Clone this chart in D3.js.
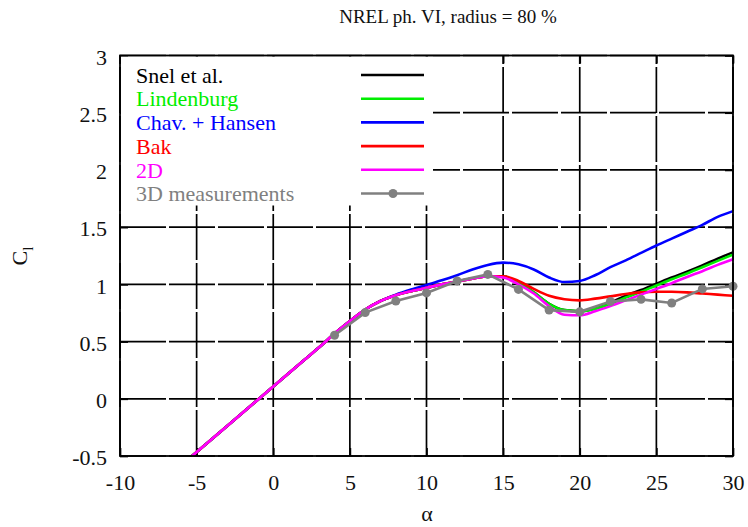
<!DOCTYPE html>
<html>
<head>
<meta charset="utf-8">
<script src="https://cdn.jsdelivr.net/npm/d3@7"></script>
<style>
  html, body { margin: 0; padding: 0; background: #fff; }
  svg text { font-family: "Liberation Serif", "Times New Roman", serif !important; }
</style>
</head>
<body>
<svg id="chart" width="748" height="527"></svg>
<script>
// ---- data ----
const chartTitle = "NREL ph. VI, radius = 80 %";
const xTicks = [-10, -5, 0, 5, 10, 15, 20, 25, 30];
const xTickLabels = ["-10", "-5", "0", "5", "10", "15", "20", "25", "30"];
const yTicks = [-0.5, 0, 0.5, 1, 1.5, 2, 2.5, 3];
const yTickLabels = ["-0.5", "0", "0.5", "1", "1.5", "2", "2.5", "3"];

const alphaModel = [-5.3, -4, -2, 0, 2, 3, 4, 5, 6, 7, 8, 9, 10, 11, 12, 13, 14, 15, 16, 17, 18, 19, 20, 21, 22, 23, 24, 25, 26, 27, 28, 29, 30];
const clSnel = [-0.5, -0.351, -0.122, 0.107, 0.336, 0.45, 0.57, 0.68, 0.78, 0.855, 0.905, 0.94, 0.97, 1.0, 1.025, 1.05, 1.07, 1.07, 1.01, 0.93, 0.83, 0.775, 0.765, 0.79, 0.84, 0.9, 0.95, 1.005, 1.06, 1.11, 1.165, 1.225, 1.28];
const clLindenburg = [-0.5, -0.351, -0.122, 0.107, 0.336, 0.45, 0.57, 0.68, 0.78, 0.855, 0.905, 0.94, 0.97, 1.0, 1.025, 1.05, 1.07, 1.07, 1.01, 0.93, 0.83, 0.775, 0.765, 0.785, 0.83, 0.885, 0.935, 0.99, 1.045, 1.095, 1.15, 1.205, 1.26];
const clChavHansen = [-0.5, -0.351, -0.122, 0.107, 0.336, 0.45, 0.57, 0.68, 0.78, 0.855, 0.91, 0.955, 0.995, 1.035, 1.08, 1.13, 1.17, 1.19, 1.175, 1.13, 1.06, 1.02, 1.03, 1.08, 1.15, 1.21, 1.275, 1.34, 1.40, 1.46, 1.52, 1.59, 1.64];
const clBak = [-0.5, -0.351, -0.122, 0.107, 0.336, 0.45, 0.57, 0.68, 0.78, 0.855, 0.905, 0.94, 0.97, 1.0, 1.025, 1.05, 1.07, 1.07, 1.03, 0.96, 0.9, 0.87, 0.86, 0.875, 0.895, 0.915, 0.93, 0.935, 0.935, 0.93, 0.92, 0.91, 0.9];
const cl2D = [-0.5, -0.351, -0.122, 0.107, 0.336, 0.45, 0.57, 0.68, 0.78, 0.855, 0.905, 0.94, 0.97, 1.0, 1.025, 1.05, 1.07, 1.06, 1.0, 0.92, 0.81, 0.735, 0.73, 0.765, 0.81, 0.86, 0.91, 0.96, 1.01, 1.065, 1.115, 1.17, 1.22];

const alphaExp = [4, 6, 8, 10, 12, 14, 16, 18, 20, 22, 24, 26, 28, 30];
const clExp = [0.555, 0.753, 0.855, 0.925, 1.03, 1.087, 0.956, 0.775, 0.76, 0.85, 0.869, 0.837, 0.96, 0.983];

const seriesNames = ["Snel et al.", "Lindenburg", "Chav. + Hansen", "Bak", "2D", "3D measurements"];
const seriesColors = ["#000000", "#00ee00", "#0000ff", "#ff0000", "#ff00ff", "#808080"];

// ---- layout ----
const svg = d3.select("#chart");
const L = 120, R = 733, T = 55.5, B = 456;
const x = d3.scaleLinear().domain([-10, 30]).range([L, R]);
const y = d3.scaleLinear().domain([-0.5, 3]).range([B, T]);

// grid
const grid = svg.append("g");
grid.selectAll("line.gx").data(xTicks).enter().append("line")
  .attr("x1", d => x(d)).attr("x2", d => x(d)).attr("y1", B).attr("y2", T)
  .attr("stroke", "#000").attr("stroke-width", 1.7).attr("stroke-dasharray", "46,3");
grid.selectAll("line.gy").data(yTicks).enter().append("line")
  .attr("y1", d => y(d)).attr("y2", d => y(d)).attr("x1", L).attr("x2", R)
  .attr("stroke", "#000").attr("stroke-width", 1.7).attr("stroke-dasharray", "46,3");

// axes (ticks inward, mirrored)
const fmtX = d => xTickLabels[xTicks.indexOf(d)];
const fmtY = d => yTickLabels[yTicks.indexOf(d)];
const axB = svg.append("g").attr("transform", `translate(0,${B})`)
  .call(d3.axisBottom(x).tickValues(xTicks).tickSize(-8).tickPadding(18).tickFormat(fmtX));
const axT = svg.append("g").attr("transform", `translate(0,${T})`)
  .call(d3.axisTop(x).tickValues(xTicks).tickSize(-8).tickFormat(""));
const axL = svg.append("g").attr("transform", `translate(${L},0)`)
  .call(d3.axisLeft(y).tickValues(yTicks).tickSize(-8).tickPadding(13).tickFormat(fmtY));
const axR = svg.append("g").attr("transform", `translate(${R},0)`)
  .call(d3.axisRight(y).tickValues(yTicks).tickSize(-8).tickFormat(""));
[axB, axT, axL, axR].forEach(g => {
  g.attr("font-family", null);
  g.select(".domain").remove();
  g.selectAll(".tick line").attr("stroke", "#000").attr("stroke-width", 1.7);
  g.selectAll("text").attr("font-size", 22).attr("fill", "#111");
});
axB.selectAll("text").attr("dy", "0.71em");
axL.selectAll("text").attr("dy", "0.4em");

// legend background (opaque key box)
svg.append("rect").attr("x", L + 1).attr("y", T + 1).attr("width", 312).attr("height", 149).attr("fill", "#fff");

// curves
const modelSeries = [clSnel, clLindenburg, clChavHansen, clBak, cl2D];
const line = d3.line().x(d => x(d[0])).y(d => y(d[1])).curve(d3.curveMonotoneX);
modelSeries.forEach((vals, i) => {
  svg.append("path")
    .datum(alphaModel.map((a, j) => [a, vals[j]]))
    .attr("d", line).attr("fill", "none")
    .attr("stroke", seriesColors[i]).attr("stroke-width", 2.6).attr("stroke-linejoin", "round");
});
const expData = alphaExp.map((a, j) => [a, clExp[j]]);
svg.append("path").datum(expData)
  .attr("d", d3.line().x(d => x(d[0])).y(d => y(d[1])))
  .attr("fill", "none").attr("stroke", seriesColors[5]).attr("stroke-width", 2.6);
svg.selectAll("circle.exp").data(expData).enter().append("circle")
  .attr("cx", d => x(d[0])).attr("cy", d => y(d[1])).attr("r", 4.5).attr("fill", seriesColors[5]);

// border
svg.append("rect").attr("x", L).attr("y", T).attr("width", R - L).attr("height", B - T)
  .attr("fill", "none").attr("stroke", "#000").attr("stroke-width", 1.8);

// legend
const legY0 = 75, legDy = 23.7;
seriesNames.forEach((name, i) => {
  const yy = legY0 + i * legDy;
  svg.append("text").attr("x", 136).attr("y", yy).attr("dy", "0.35em")
    .attr("font-size", 22).attr("fill", seriesColors[i]).text(name);
  svg.append("line").attr("x1", 361).attr("x2", 424).attr("y1", yy).attr("y2", yy)
    .attr("stroke", seriesColors[i]).attr("stroke-width", 2.6);
  if (i === 5) {
    svg.append("circle").attr("cx", 393).attr("cy", yy).attr("r", 4.5).attr("fill", seriesColors[i]);
  }
});

// title and axis labels
svg.append("text").attr("x", 448).attr("y", 23).attr("text-anchor", "middle")
  .attr("font-size", 19).attr("fill", "#111").text(chartTitle);
svg.append("text").attr("x", 427).attr("y", 521).attr("text-anchor", "middle")
  .attr("font-size", 22).attr("fill", "#111").text("α");
const yl = svg.append("text").attr("transform", "translate(27,256) rotate(-90)")
  .attr("text-anchor", "middle").attr("font-size", 22).attr("fill", "#111");
yl.append("tspan").text("C");
yl.append("tspan").attr("font-size", 15).attr("dy", 6).text("l");
</script>
</body>
</html>
